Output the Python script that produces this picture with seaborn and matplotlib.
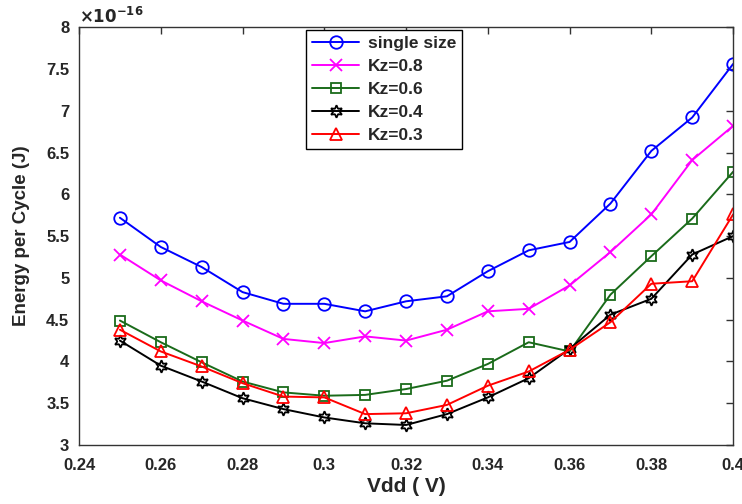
import numpy as np
import pandas as pd
import matplotlib
matplotlib.use("Agg")
import matplotlib.pyplot as plt
import seaborn as sns
from matplotlib.ticker import FuncFormatter

sns.set_style("white")
plt.rcParams['font.family'] = ['Liberation Sans', 'DejaVu Sans']
plt.rcParams['font.weight'] = 'bold'
plt.rcParams['mathtext.default'] = 'bf'

vdd = [0.25, 0.26, 0.27, 0.28, 0.29, 0.30, 0.31, 0.32, 0.33, 0.34, 0.35, 0.36, 0.37, 0.38, 0.39, 0.40]
single_size = [5.72, 5.37, 5.13, 4.83, 4.69, 4.69, 4.60, 4.72, 4.78, 5.08, 5.33, 5.43, 5.89, 6.52, 6.92, 7.56]
kz08 = [5.28, 4.97, 4.72, 4.49, 4.27, 4.22, 4.30, 4.25, 4.38, 4.60, 4.63, 4.91, 5.31, 5.76, 6.41, 6.82]
kz06 = [4.49, 4.23, 3.99, 3.76, 3.63, 3.59, 3.60, 3.67, 3.77, 3.97, 4.23, 4.12, 4.80, 5.26, 5.71, 6.27]
kz04 = [4.25, 3.95, 3.76, 3.56, 3.43, 3.33, 3.26, 3.24, 3.37, 3.57, 3.80, 4.15, 4.56, 4.75, 5.28, 5.50]
kz03 = [4.38, 4.12, 3.94, 3.74, 3.58, 3.57, 3.37, 3.38, 3.48, 3.71, 3.88, 4.14, 4.47, 4.93, 4.96, 5.76]
labels = ["single size", "Kz=0.8", "Kz=0.6", "Kz=0.4", "Kz=0.3"]
xtick_labels = ["0.24", "0.26", "0.28", "0.3", "0.32", "0.34", "0.36", "0.38", "0.4"]
scale = 1e-16

series = [single_size, kz08, kz06, kz04, kz03]
styles = [
    dict(color=(0, 0, 1), marker='o', mfc='none', ms=9),
    dict(color=(1, 0, 1), marker='x', ms=8),
    dict(color=(0.1, 0.42, 0.1), marker='s', mfc='none', ms=7),
    dict(color='black', marker=(6, 1, 0), mfc='none', ms=9),
    dict(color=(1, 0, 0), marker='^', mfc='none', ms=9),
]

fig = plt.figure(figsize=(7.42, 5.04), dpi=100)
ax = fig.add_axes([0.1065, 0.117, 0.8815, 0.829])

for lab, vals, st in zip(labels, series, styles):
    df = pd.DataFrame({"Vdd": vdd, "E": np.array(vals) * scale})
    sns.lineplot(data=df, x="Vdd", y="E", ax=ax, label=lab, color=st['color'],
                 marker=st['marker'], markersize=st['ms'],
                 markerfacecolor=st.get('mfc', st['color']),
                 markeredgecolor=st['color'], markeredgewidth=1.3,
                 linewidth=1.4)

ax.set_xlim(0.24, 0.40)
ax.set_ylim(3e-16, 8e-16)
ax.set_xticks(np.arange(0.24, 0.4001, 0.02))
ax.set_xticklabels(xtick_labels)
ax.set_yticks(np.arange(3, 8.01, 0.5) * scale)
ax.yaxis.set_major_formatter(FuncFormatter(lambda v, p: f"{round(v / scale, 2):g}"))
ax.text(0.0, 1.004, r"$\times\mathbf{10^{-16}}$", transform=ax.transAxes,
        ha='left', va='bottom', fontsize=12, fontweight='bold')

ax.tick_params(direction='in', top=True, right=True, length=5, width=1,
               labelsize=12, color='#333333')
ax.tick_params(axis='x', pad=9)
ax.tick_params(axis='y', pad=7)
for lbl in ax.get_xticklabels() + ax.get_yticklabels():
    lbl.set_fontweight('bold')
for sp in ax.spines.values():
    sp.set_color('#333333')
    sp.set_linewidth(1)

ax.set_xlabel("Vdd ( V)", fontsize=15, fontweight='bold', labelpad=3)
ax.set_ylabel("Energy per Cycle (J)", fontsize=13.5, fontweight='bold', labelpad=12)

leg = ax.legend(loc='upper left', bbox_to_anchor=(0.347, 0.993), borderaxespad=0,
                frameon=True, fancybox=False, edgecolor='black', framealpha=1,
                prop={'weight': 'bold', 'size': 12.5}, handlelength=2.7,
                borderpad=0.35, labelspacing=0.45, handletextpad=0.5)
leg.get_frame().set_linewidth(1)

fig.savefig("out.png", dpi=100)
